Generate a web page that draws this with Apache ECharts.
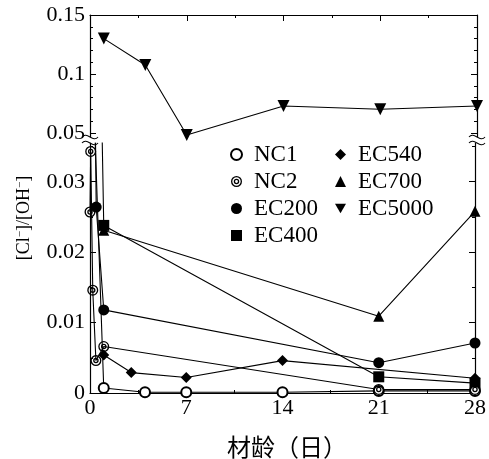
<!DOCTYPE html>
<html>
<head>
<meta charset="utf-8">
<script src="https://cdn.jsdelivr.net/npm/echarts@6/dist/echarts.min.js"></script>
<style>
  html, body { margin: 0; padding: 0; background: #fff; }
  #chart { width: 489px; height: 459px; }
</style>
</head>
<body>
<div id="chart"></div>
<script>
// Ages in days and [Cl-]/[OH-] ratios, one [day, ratio] pair per measurement
const NC1 = [[0.3, 0.040], [1, 0.0007], [4, 0.0001], [7, 0.0001], [14, 0.0001], [21, 0.0003], [28, 0.0003]];
const NC2 = [[0, 0.0257], [0.05, 0.0343], [0.2, 0.0146], [0.43, 0.0046], [1, 0.0066], [21, 0.0005], [28, 0.0005]];
const EC200 = [[0.38, 0.040], [0.45, 0.0264], [1, 0.0118], [21, 0.0043], [28, 0.0071]];
const EC400 = [[0.85, 0.040], [1, 0.0238], [21, 0.0023], [28, 0.0014]];
const EC540 = [[1, 0.0054], [3, 0.0029], [7, 0.0022], [14, 0.0046], [28, 0.0021]];
const EC700 = [[1, 0.0231], [21, 0.0109], [28, 0.0258]];
const EC5000 = [[1, 0.130], [4, 0.1076], [7, 0.0483], [14, 0.0729], [21, 0.0701], [28, 0.0729]];

// Axis tick values (upper part above the break, lower part below it)
const xTicks = [0, 7, 14, 21, 28];
const upperMajor = [0.05, 0.1, 0.15];
const upperMinor = [0.06, 0.07, 0.08, 0.09, 0.11, 0.12, 0.13, 0.14];
const lowerMajor = [0, 0.01, 0.02, 0.03];
const lowerMinor = [0.005, 0.015, 0.025, 0.035];
const seriesNames = ['NC1', 'NC2', 'EC200', 'EC400', 'EC540', 'EC700', 'EC5000'];

const SERIF = '"Liberation Serif", "Times New Roman", serif';
const BLACK = '#000';

// Double ring marker and downward triangle
const RING2 = 'path://M0 10A10 10 0 1 1 20 10A10 10 0 1 1 0 10Z' +
  'M2.4 10A7.6 7.6 0 1 0 17.6 10A7.6 7.6 0 1 0 2.4 10Z' +
  'M5 10A5 5 0 1 1 15 10A5 5 0 1 1 5 10Z' +
  'M7.4 10A2.6 2.6 0 1 0 12.6 10A2.6 2.6 0 1 0 7.4 10Z';
const DOWN_TRI = 'path://M0 0L20 0L10 17Z';

const symbols = {
  NC1: ['emptyCircle', 10],
  NC2: [RING2, 11],
  EC200: ['circle', 11],
  EC400: ['rect', 11],
  EC540: ['diamond', 11],
  EC700: ['triangle', 11],
  EC5000: [DOWN_TRI, 12]
};
const dataOf = { NC1, NC2, EC200, EC400, EC540, EC700, EC5000 };

const fmt = v => (v === 0 ? '0' : String(+v.toFixed(3)));

function yAxisDef(grid, pos, min, max, ticks, len, labels) {
  return {
    type: 'value', gridIndex: grid, position: pos, min: min, max: max,
    axisLine: { show: len > 4, lineStyle: { color: BLACK, width: 1.2 } },
    axisTick: { show: true, inside: true, length: len, customValues: ticks,
                lineStyle: { color: BLACK, width: 1 } },
    axisLabel: labels
      ? { show: true, customValues: ticks, formatter: fmt, margin: 5,
          fontFamily: SERIF, fontSize: 22, color: BLACK }
      : { show: false },
    splitLine: { show: false }
  };
}

function xAxisDef(grid, pos, labels) {
  return {
    type: 'value', gridIndex: grid, position: pos, min: 0, max: 28, interval: 7,
    axisLine: { show: true, onZero: false, lineStyle: { color: BLACK, width: 1.2 } },
    axisTick: { show: true, inside: true, length: 6, lineStyle: { color: BLACK } },
    minorTick: { show: true, splitNumber: 2, length: 3, lineStyle: { color: BLACK } },
    axisLabel: labels
      ? { show: true, margin: 4, fontFamily: SERIF, fontSize: 22, color: BLACK,
          customValues: xTicks }
      : { show: false },
    splitLine: { show: false }, minorSplitLine: { show: false }
  };
}

const UP_MIN = 0.0466, UP_MAX = 0.15, LO_MIN = 0, LO_MAX = 0.0355;

const series = seriesNames.map(name => ({
  name: name,
  type: 'line',
  xAxisIndex: name === 'EC5000' ? 0 : 1,
  yAxisIndex: name === 'EC5000' ? 0 : 4,
  data: dataOf[name],
  symbol: symbols[name][0],
  symbolSize: symbols[name][1],
  showAllSymbol: true,
  clip: true,
  itemStyle: { color: BLACK, borderColor: BLACK,
               borderWidth: name === 'NC1' ? 1.3 : 0 },
  lineStyle: { color: BLACK, width: 1.1 },
  emphasis: { disabled: true },
  z: name === 'NC1' || name === 'NC2' ? 3 : 2
}));

function legendDef(names, left) {
  return {
    show: true, orient: 'vertical', left: left, top: 143, padding: 0,
    itemWidth: 11, itemHeight: 11, itemGap: 4,
    selectedMode: false,
    textStyle: { fontFamily: SERIF, fontSize: 23, lineHeight: 23, color: BLACK,
                 padding: [0, 0, 0, 7] },
    data: names.map(n => ({ name: n, icon: symbols[n][0] }))
  };
}

// Axis-break squiggles at both ends of the gap
function breakMark(x) {
  const curve = (y) => ({
    type: 'bezierCurve', z: 100,
    shape: { x1: x - 8, y1: y, x2: x + 8, y2: y,
             cpx1: x - 3, cpy1: y - 6, cpx2: x + 3, cpy2: y + 6 },
    style: { stroke: BLACK, lineWidth: 1.1, fill: null }
  });
  return [
    { type: 'rect', z: 99, shape: { x: x - 6, y: 137.5, width: 12, height: 5 },
      style: { fill: '#fff' } },
    curve(137), curve(143)
  ];
}

const option = {
  animation: false,
  backgroundColor: '#fff',
  grid: [
    { left: 90, right: 12, top: 15, height: 122 },
    { left: 90, right: 12, top: 143, height: 250 }
  ],
  xAxis: [xAxisDef(0, 'top', false), xAxisDef(1, 'bottom', true)],
  yAxis: [
    yAxisDef(0, 'left', UP_MIN, UP_MAX, upperMajor, 6, true),
    yAxisDef(0, 'right', UP_MIN, UP_MAX, upperMajor, 6, false),
    yAxisDef(0, 'left', UP_MIN, UP_MAX, upperMinor, 3, false),
    yAxisDef(0, 'right', UP_MIN, UP_MAX, upperMinor, 3, false),
    yAxisDef(1, 'left', LO_MIN, LO_MAX, lowerMajor, 6, true),
    yAxisDef(1, 'right', LO_MIN, LO_MAX, lowerMajor, 6, false),
    yAxisDef(1, 'left', LO_MIN, LO_MAX, lowerMinor, 3, false),
    yAxisDef(1, 'right', LO_MIN, LO_MAX, lowerMinor, 3, false)
  ],
  legend: [
    legendDef(['NC1', 'NC2', 'EC200', 'EC400'], 230),
    legendDef(['EC540', 'EC700', 'EC5000'], 335)
  ],
  series: series,
  graphic: [
    ...breakMark(90),
    ...breakMark(477),
    {
      type: 'text', x: 24, y: 218, z: 100,
      rotation: Math.PI / 2,
      style: {
        text: '{b|[Cl}{s|−}{b|]/[OH}{s|−}{b|]}',
        align: 'center', verticalAlign: 'middle',
        rich: {
          b: { fontFamily: SERIF, fontSize: 18, lineHeight: 18, fill: BLACK },
          s: { fontFamily: SERIF, fontSize: 11, fill: BLACK, verticalAlign: 'top' }
        }
      }
    },
    {
      type: 'text', x: 287, y: 447, z: 100,
      style: {
        text: '材龄（日）', fontFamily: '"Noto Sans CJK SC", sans-serif',
        fontSize: 24, fill: BLACK, align: 'center', verticalAlign: 'middle'
      }
    }
  ]
};

const chart = echarts.init(document.getElementById('chart'), null, { renderer: 'canvas' });
chart.setOption(option);
</script>
</body>
</html>
